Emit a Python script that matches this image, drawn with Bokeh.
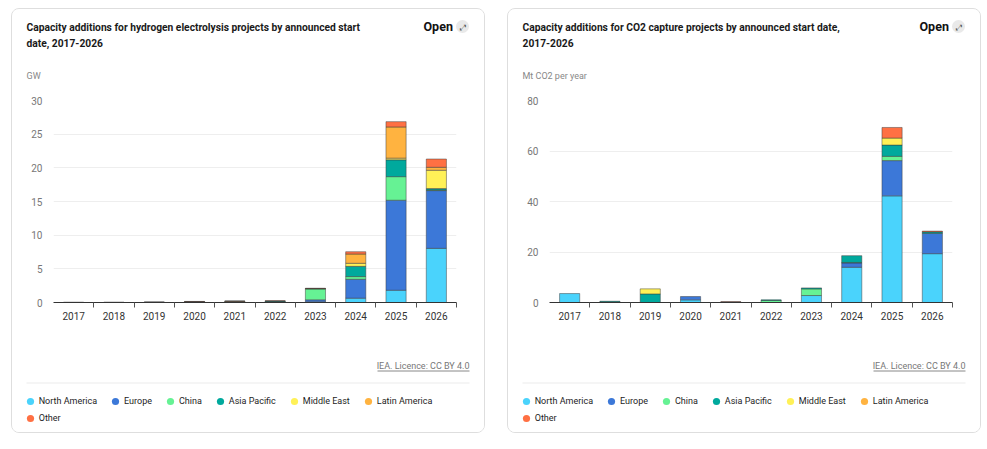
import numpy as np
from bokeh.plotting import figure
from bokeh.layouts import row, column
from bokeh.models import (Range1d, LinearAxis, FixedTicker, Grid, Label, Legend,
                          LegendItem, ColumnDataSource)
from bokeh.embed import file_html
from bokeh.resources import INLINE

years = ["2017", "2018", "2019", "2020", "2021", "2022", "2023", "2024", "2025", "2026"]
regions = ["North America", "Europe", "China", "Asia Pacific", "Middle East", "Latin America", "Other"]
colors = ["#4ad3fc", "#3c78d8", "#66f294", "#00a99d", "#fff157", "#ffb340", "#ff7043"]

# Hydrogen electrolysis, GW
h2_north_america = [0.01, 0.01, 0.02, 0.02, 0.02, 0.03, 0.10, 0.64, 1.82, 8.04]
h2_europe        = [0.02, 0.03, 0.03, 0.05, 0.05, 0.05, 0.30, 2.81, 13.37, 8.58]
h2_china         = [0.00, 0.00, 0.01, 0.03, 0.10, 0.05, 1.63, 0.40, 3.50, 0.10]
h2_asia_pacific  = [0.00, 0.00, 0.00, 0.01, 0.02, 0.10, 0.02, 1.52, 2.50, 0.20]
h2_middle_east   = [0.00, 0.00, 0.00, 0.00, 0.00, 0.00, 0.00, 0.45, 0.25, 2.72]
h2_latin_america = [0.00, 0.00, 0.00, 0.00, 0.00, 0.00, 0.02, 1.38, 4.63, 0.44]
h2_other         = [0.00, 0.00, 0.00, 0.05, 0.02, 0.02, 0.05, 0.34, 0.79, 1.23]

# CO2 capture, Mt CO2 per year
co2_north_america = [3.55, 0.00, 0.00, 1.05, 0.20, 0.00, 2.76, 13.95, 42.24, 19.34]
co2_europe        = [0.00, 0.00, 0.00, 1.32, 0.00, 0.00, 0.00, 1.71, 13.95, 8.03]
co2_china         = [0.00, 0.20, 0.00, 0.00, 0.00, 0.80, 2.63, 0.20, 1.70, 0.00]
co2_asia_pacific  = [0.00, 0.30, 3.40, 0.00, 0.00, 0.25, 0.40, 2.69, 4.47, 0.60]
co2_middle_east   = [0.00, 0.00, 2.00, 0.00, 0.00, 0.00, 0.00, 0.00, 2.76, 0.00]
co2_latin_america = [0.00, 0.00, 0.00, 0.00, 0.00, 0.00, 0.00, 0.00, 0.00, 0.00]
co2_other         = [0.00, 0.00, 0.00, 0.00, 0.10, 0.00, 0.00, 0.00, 4.20, 0.30]

h2_ticks = [0, 5, 10, 15, 20, 25, 30]
co2_ticks = [0, 20, 40, 60, 80]

FONT = "Roboto"
CW = 472          # card content width
HH, CH, FH = 85, 228, 110   # header, chart, footer heights


def pixel_fig(h):
    p = figure(width=CW, height=h, x_range=Range1d(0, CW), y_range=Range1d(h, 0),
               output_backend="svg", toolbar_location=None, x_axis_type=None,
               y_axis_type=None, min_border=0, outline_line_color=None,
               background_fill_color="white", border_fill_color="white",
               frame_align=False)
    p.xgrid.visible = False
    p.ygrid.visible = False
    return p


def lab(p, x, y, text, size, color, bold=False, align="left", font=FONT):
    p.add_layout(Label(x=x, y=y, text=text, text_font=font, text_font_size=size,
                       text_color=color, text_font_style="bold" if bold else "normal",
                       text_baseline="middle", text_align=align))


def make_card(title1, title2, unit, series, yticks):
    # ---------- header ----------
    h = pixel_fig(HH)
    lab(h, 14, 17.5, title1, "10.25px", "#1a1a1a", True)
    lab(h, 14, 33.5, title2, "10.25px", "#1a1a1a", True)
    lab(h, 411, 17, "Open", "12.5px", "#111111", True)
    h.scatter(x=[450], y=[17], marker="circle", size=13, fill_color="#e9e9e9", line_color=None)
    lab(h, 450, 17.5, "⤢", "8px", "#555555", align="center", font="DejaVu Sans")
    lab(h, 14, 66, unit, "9px", "#888888")

    # ---------- chart ----------
    BL, BR, BT, BB = 41, 28, 6, 20
    p = figure(width=CW, height=CH, x_range=Range1d(0, len(years)),
               y_range=Range1d(0, yticks[-1]), output_backend="svg",
               toolbar_location=None, x_axis_type=None, y_axis_type=None,
               min_border_left=BL, min_border_right=BR, min_border_top=BT,
               min_border_bottom=BB, outline_line_color=None,
               background_fill_color="white", border_fill_color="white",
               frame_align=False)

    centers = [i + 0.5 for i in range(len(years))]
    bounds = [i + 1 for i in range(len(years))]

    yaxis = LinearAxis(ticker=FixedTicker(ticks=yticks), axis_line_color=None,
                       major_tick_line_color=None, minor_tick_line_color=None,
                       major_tick_out=0, major_tick_in=0, major_label_standoff=11,
                       major_label_text_color="#777777", major_label_text_font_size="10px",
                       major_label_text_font=FONT)
    p.add_layout(yaxis, "left")
    p.add_layout(Grid(dimension=1, ticker=yaxis.ticker, grid_line_color="#eeeeee"))

    xaxis = LinearAxis(ticker=FixedTicker(ticks=centers, minor_ticks=bounds),
                       major_label_overrides={c: y for c, y in zip(centers, years)},
                       axis_line_color="#333333", major_tick_line_color=None,
                       major_tick_out=0, major_tick_in=0,
                       minor_tick_in=0, minor_tick_out=5, minor_tick_line_color="#555555",
                       major_label_standoff=4, major_label_text_font_size="10px",
                       major_label_text_color="#333333", major_label_text_font=FONT)
    p.add_layout(xaxis, "below")

    bottom = np.zeros(len(years))
    for vals, col in zip(series, colors):
        v = np.array(vals, dtype=float)
        mask = v > 0
        src = ColumnDataSource(dict(x=np.array(centers)[mask], bottom=bottom[mask],
                                    top=(bottom + v)[mask]))
        p.vbar(x="x", bottom="bottom", top="top", width=0.5, source=src,
               fill_color=col, line_color="#3a3a3a", line_alpha=0.6, line_width=0.8)
        bottom = bottom + v

    # ---------- footer ----------
    f = pixel_fig(FH)
    lab(f, 457, 43, "IEA. Licence: CC BY 4.0", "9px", "#777777", align="right")
    f.segment(x0=[365], y0=[48.5], x1=[457], y1=[48.5], line_color="#888888", line_width=1)
    f.segment(x0=[14], y0=[60.5], x1=[457], y1=[60.5], line_color="#ebebeb", line_width=1)

    dummies = [f.scatter(x=[np.nan], y=[np.nan], marker="circle", size=7, fill_color=c,
                         line_color=None) for c in colors]
    items = [LegendItem(label=r, renderers=[d]) for r, d in zip(regions, dummies)]
    common = dict(orientation="horizontal", glyph_width=18, glyph_height=18,
                  label_standoff=0, spacing=9, padding=0, margin=0,
                  label_text_font=FONT, label_text_font_size="9px",
                  label_text_color="#1d1d1d", background_fill_alpha=0,
                  border_line_color=None, label_height=18)
    f.add_layout(Legend(items=items[:6], location=(8.7, 21.8), **common))
    f.add_layout(Legend(items=items[6:], location=(8.7, 4.8), **common))

    card = column(h, p, f, spacing=0,
                  styles={"border": "1px solid #dedede", "border-radius": "8px",
                          "overflow": "hidden", "background-color": "white"})
    return card


c1 = make_card("Capacity additions for hydrogen electrolysis projects by announced start",
               "date, 2017-2026", "GW",
               [h2_north_america, h2_europe, h2_china, h2_asia_pacific, h2_middle_east,
                h2_latin_america, h2_other], h2_ticks)
c2 = make_card("Capacity additions for CO2 capture projects by announced start date,",
               "2017-2026", "Mt CO2 per year",
               [co2_north_america, co2_europe, co2_china, co2_asia_pacific, co2_middle_east,
                co2_latin_america, co2_other], co2_ticks)
c1.margin = (8, 0, 0, 11)
c2.margin = (8, 0, 0, 22)

layout = row(c1, c2)
open("out.html", "w").write(file_html(layout, INLINE))
